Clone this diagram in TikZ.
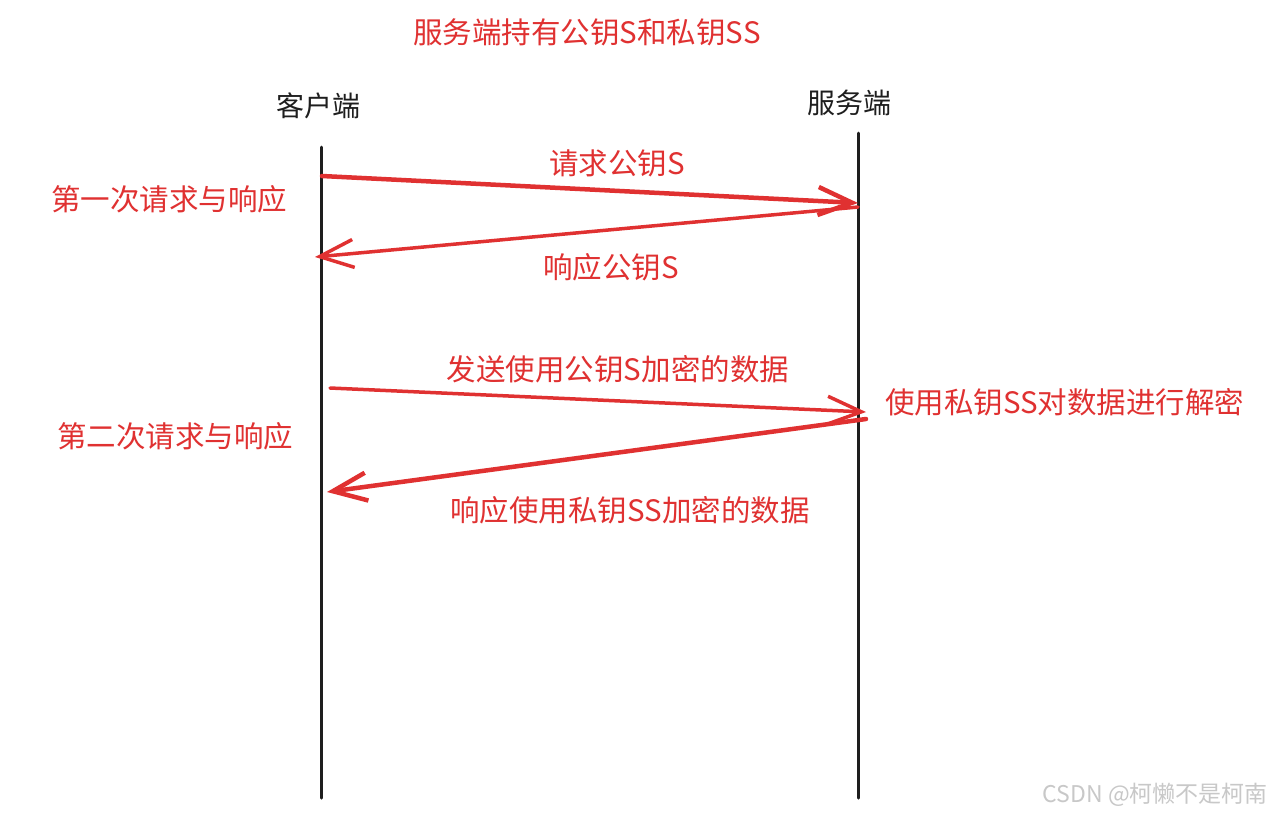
\documentclass[tikz,border=0pt]{standalone}
\usepackage{fontspec}
\setmainfont{Noto Sans CJK SC}
\usetikzlibrary{arrows.meta}
\definecolor{exred}{HTML}{E03131}
\definecolor{exblack}{HTML}{1E1E1E}
\definecolor{wm}{HTML}{C8C8C8}
\begin{document}
\begin{tikzpicture}[x=1pt,y=-1pt,
  lifeline/.style={draw=exblack,line width=3pt,line cap=round},
  msg/.style={draw=exred,line cap=round,-{Straight Barb[length=34pt,width=28pt]}},
  redtxt/.style={text=exred,font=\fontsize{29.5}{34}\selectfont,inner sep=0pt},
  blktxt/.style={text=exblack,font=\fontsize{28}{32}\selectfont,inner sep=0pt}]
\useasboundingbox (0,0) rectangle (1272,815);
\fill[white] (0,0) rectangle (1272,815);
% title
\node[redtxt] (title) at (587,32) {服务端持有公钥S和私钥SS};
% actors
\node[blktxt] (client) at (318,106) {客户端};
\node[blktxt] (server) at (849,103) {服务端};
% lifelines
\coordinate (ltop) at (321,147);
\coordinate (lbot) at (321,798);
\coordinate (rtop) at (858,133);
\coordinate (rbot) at (858,798);
\draw[lifeline] (ltop) -- (lbot);
\draw[lifeline] (rtop) -- (rbot);
% arrow endpoints
\coordinate (a1s) at (322,176);
\coordinate (a1e) at (858,203);
\coordinate (a2s) at (858,207);
\coordinate (a2e) at (315,257);
\coordinate (a3s) at (330,388);
\coordinate (a3e) at (866,412);
\coordinate (a4s) at (866,419);
\coordinate (a4e) at (327,492);
\draw[msg,line width=4.5pt] (a1s) -- (a1e);
\draw[msg,line width=3.5pt] (a2s) -- (a2e);
\draw[msg,line width=3.5pt] (a3s) -- (a3e);
\draw[msg,line width=4.5pt] (a4s) -- (a4e);
% labels
\node[redtxt] (l1) at (617,163) {请求公钥S};
\node[redtxt] (l2) at (611,267) {响应公钥S};
\node[redtxt] (l3) at (618,369) {发送使用公钥S加密的数据};
\node[redtxt] (l4) at (630,510) {响应使用私钥SS加密的数据};
\node[redtxt,anchor=west] (l5) at (885,402) {使用私钥SS对数据进行解密};
\node[redtxt] (g1) at (169,199) {第一次请求与响应};
\node[redtxt] (g2) at (175,436) {第二次请求与响应};
% watermark
\node[text=wm,font=\fontsize{23}{26}\selectfont,inner sep=0pt,anchor=east] (wmk) at (1268,795) {CSDN @柯懒不是柯南};
\end{tikzpicture}
\end{document}
